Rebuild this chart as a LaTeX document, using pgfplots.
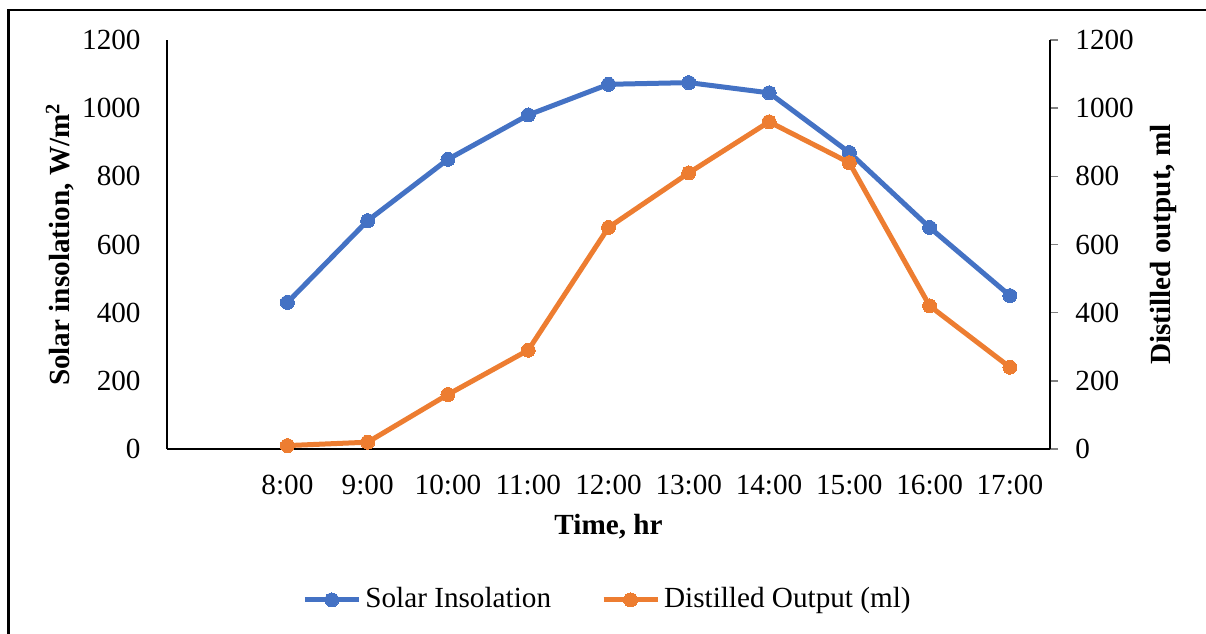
\documentclass[border=0pt]{standalone}
\usepackage{pgfplots}
\pgfplotsset{compat=1.18}
\usepackage{fontspec}
\setmainfont{Liberation Serif}
\definecolor{solar}{HTML}{4472C4}
\definecolor{distil}{HTML}{ED7D31}
\newcommand\chartfont{\fontsize{14.6pt}{17.5pt}\selectfont}
\begin{document}
\chartfont
\begin{tikzpicture}
\useasboundingbox (0,0) rectangle (603pt,-316.5pt);
\draw[line width=1.1pt] (4.2pt,-320pt) -- (4.2pt,-4.8pt) -- (606pt,-4.8pt);
\pgfplotsset{
  every axis/.append style={
    scale only axis, width=441.5pt, height=204.5pt,
    at={(83.5pt,-224.5pt)}, anchor=south west,
    xmin=-1.5, xmax=9.5, ymin=0, ymax=1200,
    ytick={0,200,...,1200},
    axis line style={line width=0.7pt},
    /pgf/number format/assume math mode=true,
    /pgf/number format/1000 sep={},
    tick label style={font=\chartfont},
    label style={font=\chartfont\bfseries},
  },
}
\begin{axis}[
  axis x line*=bottom, axis y line*=left,
  major tick length=0pt,
  xtick={0,...,9},
  xticklabels={8:00,9:00,10:00,11:00,12:00,13:00,14:00,15:00,16:00,17:00},
  xticklabel style={anchor=north, inner sep=0pt, yshift=-13pt},
  yticklabel style={anchor=east, inner sep=0pt, xshift=-13pt},
  ylabel={Solar insolation, W/m\textsuperscript{2}},
  ylabel style={at={(axis description cs:-0.121,0.5)}, anchor=center},
  xlabel={Time, hr},
  xlabel style={at={(axis description cs:0.5,-0.19)}, anchor=center},
  legend style={at={(axis description cs:0.5,-0.369)}, anchor=center, draw=none,
    legend columns=2, font=\chartfont,
    /tikz/every even column/.append style={column sep=23pt}},
  legend image code/.code={\draw[#1, mark repeat=2, mark phase=2]
    plot coordinates {(0pt,0pt) (13.5pt,0pt) (27pt,0pt)};},
  every axis plot/.append style={line width=2.5pt, mark=*, mark size=3.5pt},
]
\addplot[solar, mark options={solid, fill=solar, line width=0pt}] coordinates {
  (0,430) (1,670) (2,850) (3,980) (4,1070) (5,1075) (6,1045) (7,870) (8,650) (9,450)};
\addlegendentry{Solar Insolation}
\addplot[distil, mark options={solid, fill=distil, line width=0pt}] coordinates {
  (0,10) (1,20) (2,160) (3,290) (4,650) (5,810) (6,960) (7,840) (8,420) (9,240)};
\addlegendentry{Distilled Output (ml)}
\end{axis}
\begin{axis}[
  axis y line*=right, axis x line=none,
  xtick=\empty,
  tick align=outside, major tick length=4pt,
  ytick style={line width=0.7pt},
  yticklabel style={anchor=west, inner sep=0pt, xshift=8.5pt},
  ylabel={Distilled output, ml},
  ylabel style={at={(axis description cs:1.128,0.5)}, anchor=center},
]
\addplot[draw=none] coordinates {(0,0)};
\end{axis}
\end{tikzpicture}
\end{document}
